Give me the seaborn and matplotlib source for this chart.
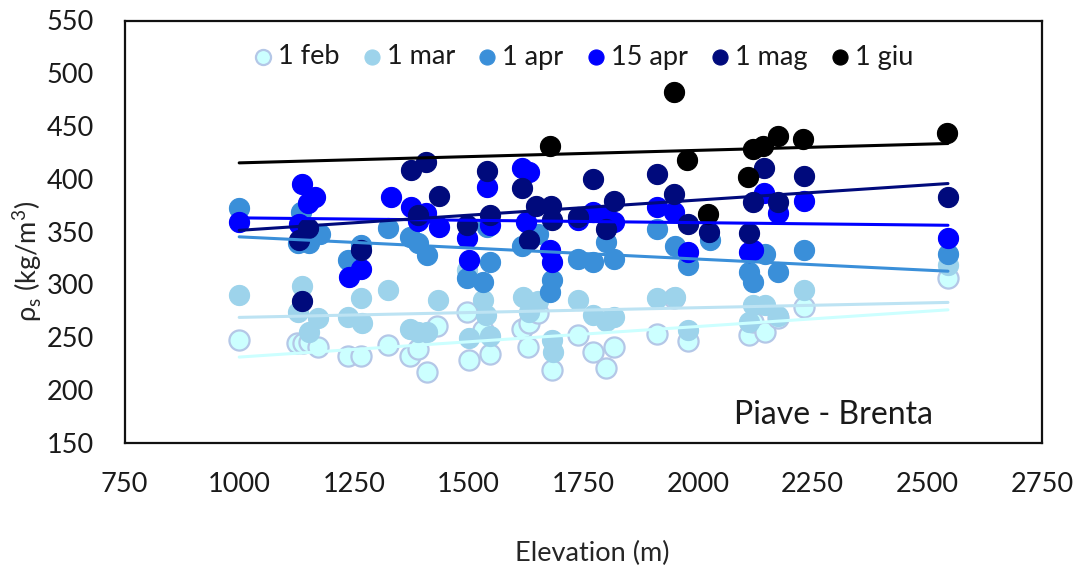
import numpy as np
import seaborn as sns
import matplotlib.pyplot as plt

# Snow density (kg/m3) versus station elevation (m), one series per survey date
series_names = ["1 feb", "1 mar", "1 apr", "15 apr", "1 mag", "1 giu"]

feb_elev = [1000, 1125, 1140, 1153, 1172, 1237, 1265, 1325, 1372, 1390, 1409, 1432,
            1496, 1500, 1532, 1547, 1616, 1630, 1632, 1652, 1681, 1739, 1772, 1799,
            1818, 1910, 1948, 1979, 2112, 2120, 2146, 2175, 2231, 2545]
feb_rho = [247, 244, 244, 245, 241, 232, 232, 243, 232, 239, 217, 261,
           274, 228, 257, 234, 258, 241, 263, 273, 219, 252, 236, 221,
           241, 253, 287, 246, 252, 264, 255, 268, 279, 306]

mar_elev = [1000, 1129, 1138, 1153, 1172, 1237, 1265, 1268, 1325, 1372, 1390, 1409,
            1434, 1496, 1500, 1532, 1539, 1547, 1618, 1632, 1652, 1681, 1683, 1739,
            1772, 1799, 1818, 1910, 1950, 1979, 2112, 2120, 2146, 2175, 2231, 2545]
mar_rho = [290, 274, 298, 255, 268, 269, 287, 263, 295, 258, 255, 255,
           285, 314, 249, 285, 271, 251, 288, 274, 284, 247, 236, 285,
           271, 265, 269, 287, 288, 257, 264, 280, 280, 270, 295, 318]

apr_elev = [1000, 1128, 1135, 1153, 1176, 1237, 1265, 1325, 1372, 1390, 1409, 1496,
            1532, 1540, 1547, 1616, 1652, 1678, 1681, 1739, 1772, 1799, 1818, 1910,
            1950, 1979, 2026, 2112, 2121, 2146, 2175, 2231, 2545]
apr_rho = [372, 339, 369, 339, 348, 323, 337, 353, 345, 339, 328, 306,
           302, 354, 321, 336, 348, 293, 304, 324, 321, 340, 324, 352,
           336, 318, 342, 312, 302, 329, 312, 333, 329]

apr15_elev = [1000, 1130, 1138, 1150, 1165, 1240, 1265, 1330, 1375, 1390, 1407, 1435,
              1497, 1500, 1540, 1547, 1617, 1625, 1632, 1678, 1682, 1738, 1772, 1800,
              1818, 1910, 1948, 1978, 2112, 2120, 2145, 2175, 2231, 2545]
apr15_rho = [359, 357, 395, 377, 383, 307, 315, 383, 373, 360, 368, 354,
             344, 323, 392, 356, 410, 359, 406, 333, 321, 361, 369, 365,
             359, 373, 369, 331, 331, 333, 387, 368, 379, 344]

mag_elev = [1130, 1138, 1150, 1265, 1375, 1390, 1407, 1435, 1497, 1540, 1547, 1617,
            1632, 1648, 1680, 1682, 1738, 1772, 1800, 1818, 1910, 1948, 1978, 2025,
            2112, 2120, 2145, 2175, 2231, 2545]
mag_rho = [342, 284, 353, 333, 408, 366, 416, 384, 356, 407, 366, 391,
           342, 374, 374, 361, 364, 400, 352, 379, 405, 386, 357, 350,
           349, 378, 410, 378, 403, 383]

giu_elev = [1677, 1947, 1977, 2022, 2109, 2120, 2142, 2175, 2229, 2544]
giu_rho = [431, 482, 418, 367, 402, 428, 431, 441, 438, 443]

x_ticks = [750, 1000, 1250, 1500, 1750, 2000, 2250, 2500, 2750]
y_ticks = [150, 200, 250, 300, 350, 400, 450, 500, 550]

elevations = [feb_elev, mar_elev, apr_elev, apr15_elev, mag_elev, giu_elev]
densities = [feb_rho, mar_rho, apr_rho, apr15_rho, mag_rho, giu_rho]
face_colors = ["#CCFFFF", "#9DD3EB", "#3A8FD9", "#0000FF", "#000A7C", "#000000"]
edge_colors = ["#B4C7E7", "#9DD3EB", "#3A8FD9", "#0000FF", "#000A7C", "#000000"]
line_colors = ["#CCFFFF", "#BDE3F3", "#3A8FD9", "#0000FF", "#000A7C", "#000000"]

sns.set_theme(style="white")
plt.rcParams["font.family"] = ["Lato", "DejaVu Sans"]
plt.rcParams["mathtext.fontset"] = "custom"
plt.rcParams["mathtext.rm"] = "Lato"
plt.rcParams["text.color"] = "#1a1a1a"

fig = plt.figure(figsize=(10.79, 5.74), dpi=100)
ax = fig.add_axes([124.5 / 1079, 1 - 442.7 / 574, 917.5 / 1079, 422.2 / 574])

for i, (name, xs, ys) in enumerate(zip(series_names, elevations, densities)):
    sns.scatterplot(x=xs, y=ys, ax=ax, s=210, color=face_colors[i],
                    edgecolor=edge_colors[i], linewidth=1.6 if i == 0 else 0.8,
                    label=name, zorder=2 + i)

# linear trend of each series over the common elevation range
all_x = np.concatenate([np.asarray(e, float) for e in elevations])
x_line = np.array([all_x.min(), all_x.max()])
for i, (xs, ys) in enumerate(zip(elevations, densities)):
    slope, intercept = np.polyfit(xs, ys, 1)
    ax.plot(x_line, slope * x_line + intercept, color=line_colors[i], lw=2.2,
            zorder=10 + i)

ax.set_xlim(750, 2750)
ax.set_ylim(150, 550)
ax.set_xticks(x_ticks)
ax.set_yticks(y_ticks)
ax.tick_params(axis="both", direction="in", length=7.5, width=1.5,
               labelsize=19.5, colors="#1a1a1a")
ax.tick_params(axis="y", pad=22)
ax.tick_params(axis="x", pad=21)
for sp in ax.spines.values():
    sp.set_visible(True)
    sp.set_color("#111111")
    sp.set_linewidth(1.6)

ax.set_xlabel("Elevation (m)", fontsize=19.5, va="center")
ax.xaxis.set_label_coords((592 - 124.5) / 917.5, (442.7 - 553) / 422.2)
ax.set_ylabel(r"ρ$_\mathregular{s}$ (kg/m$^\mathregular{3}$)", fontsize=19.5, va="center")
ax.yaxis.set_label_coords((27 - 124.5) / 917.5, (442.7 - 261) / 422.2)

ax.text((933 - 124.5) / 917.5, (442.7 - 424) / 422.2, "Piave - Brenta",
        transform=ax.transAxes, ha="right", va="baseline", fontsize=23)

ax.legend(loc="center", bbox_to_anchor=(0.5, (442.7 - 57) / 422.2), ncol=6,
          frameon=False, fontsize=19.5, markerscale=0.75, handlelength=0.7,
          handletextpad=0.2, columnspacing=0.85, borderaxespad=0)

fig.savefig("out.png", dpi=100)
